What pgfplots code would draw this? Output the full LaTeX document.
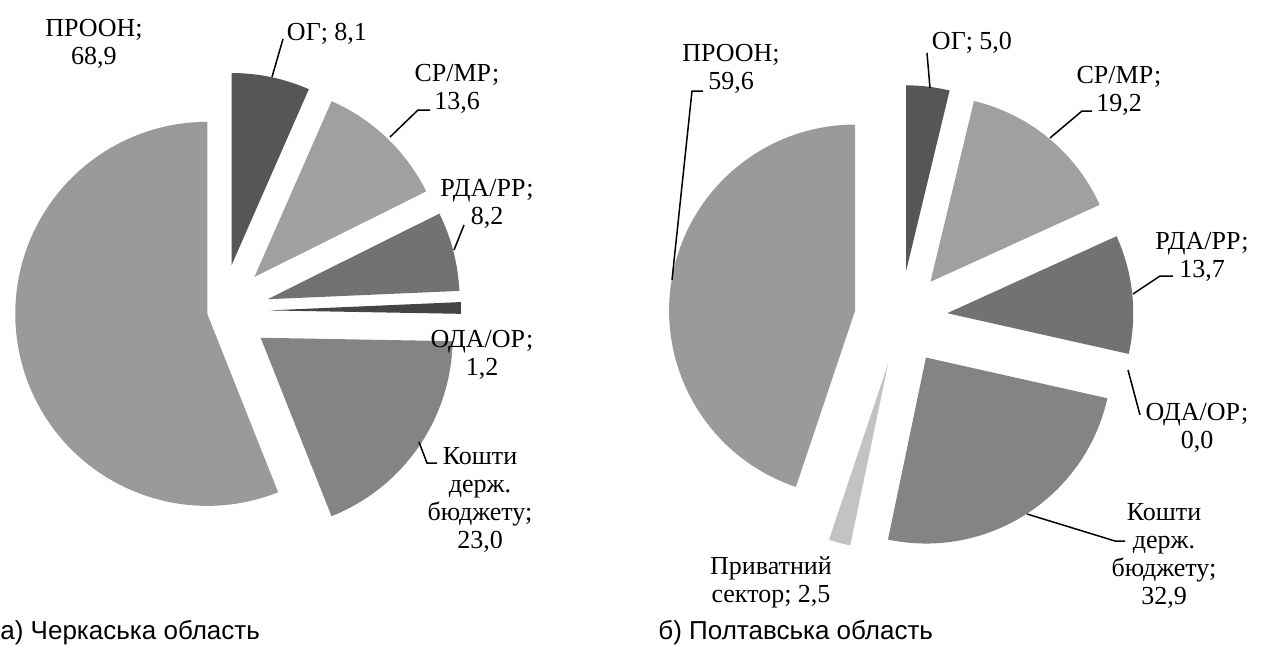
\documentclass[border=0pt]{standalone}
\usepackage{fontspec}
\setmainfont{Liberation Serif}
\newfontfamily\titlefont{Liberation Sans}
\usepackage{pgfplots}
\usepackage{pgfplotstable}
\pgfplotsset{compat=1.18}

\definecolor{cOG}{HTML}{565656}
\definecolor{cSR}{HTML}{A0A0A0}
\definecolor{cRDA}{HTML}{727272}
\definecolor{cODA}{HTML}{454545}
\definecolor{cKDB}{HTML}{848484}
\definecolor{cPROON}{HTML}{9A9A9A}
\definecolor{cPRIV}{HTML}{C3C3C3}

% value = share, explode = offset of the slice (px)
\pgfplotstableread{
label value explode color
OG    8.1   47 cOG
SR    13.6  47 cSR
RDA   8.2   47 cRDA
ODA   1.2   47 cODA
KDB   23.0  47 cKDB
PROON 68.9  15 cPROON
}\cherkasy

\pgfplotstableread{
label value explode color
OG    5.0   47 cOG
SR    19.2  47 cSR
RDA   13.7  47 cRDA
ODA   0.0   47 cODA
KDB   32.9  47 cKDB
PRIV  2.5   47 cPRIV
PROON 59.6  46 cPROON
}\poltava

% #1 table, #2 centre x, #3 centre y, #4 radius (px; 1 px = 0.5pt)
\newcommand\drawpie[4]{%
  \pgfplotstablegetrowsof{#1}%
  \pgfmathtruncatemacro\pienrows{\pgfplotsretval-1}%
  \gdef\pietotal{0}%
  \foreach \i in {0,...,\pienrows}{%
    \pgfplotstablegetelem{\i}{value}\of{#1}%
    \pgfmathsetmacro\pietmp{\pietotal+\pgfplotsretval}%
    \xdef\pietotal{\pietmp}}%
  \gdef\pieangle{90}%
  \pgfmathsetmacro\pieR{#4*0.5}%
  \foreach \i in {0,...,\pienrows}{%
    \pgfplotstablegetelem{\i}{value}\of{#1}\let\pval\pgfplotsretval
    \pgfplotstablegetelem{\i}{explode}\of{#1}\let\pexp\pgfplotsretval
    \pgfplotstablegetelem{\i}{color}\of{#1}\let\pcol\pgfplotsretval
    \pgfmathsetmacro\sA{\pieangle}%
    \pgfmathsetmacro\sB{\pieangle-(360/\pietotal)*\pval}%
    \pgfmathsetmacro\sM{(\sA+\sB)/2}%
    \pgfmathsetmacro\apx{#2+\pexp*cos(\sM)}%
    \pgfmathsetmacro\apy{#3-\pexp*sin(\sM)}%
    \ifdim\pval pt>0pt
      \fill[\pcol] (axis cs:\apx,\apy) -- ++(\sA:\pieR pt)
        arc[start angle=\sA, end angle=\sB, radius=\pieR pt] -- cycle;
    \fi
    \xdef\pieangle{\sB}%
  }%
}

\begin{document}
\begin{tikzpicture}
\begin{axis}[
  width=632.5pt, height=324pt, scale only axis,
  xmin=0, xmax=1265, ymin=0, ymax=648, y dir=reverse,
  hide axis, clip=false,
]
\pgfplotsextra{\drawpie{\cherkasy}{222}{311}{192}}
\pgfplotsextra{\drawpie{\poltava}{900.5}{318}{186}}

\tikzset{lbl/.style={font=\fontsize{13}{14}\selectfont, align=center, inner sep=0pt},
         ldr/.style={draw=black, line width=0.75pt}}

% Cherkasy labels
\node[lbl] at (axis cs:94,44) {ПРООН;\\68,9};
\node[lbl] at (axis cs:327,34) {ОГ; 8,1};
\node[lbl] at (axis cs:457,89) {СР/МР;\\13,6};
\node[lbl] at (axis cs:487,204) {РДА/РР;\\8,2};
\node[lbl] at (axis cs:482,355) {ОДА/ОР;\\1,2};
\node[lbl] at (axis cs:480,500) {Кошти\\держ.\\бюджету;\\23,0};
\draw[ldr] (axis cs:283,39) -- (axis cs:272,77);
\draw[ldr] (axis cs:390,137) -- (axis cs:418,110) -- (axis cs:430,110);
\draw[ldr] (axis cs:454,250) -- (axis cs:464,225);
\draw[ldr] (axis cs:419,442) -- (axis cs:427,463) -- (axis cs:437,463);

% Poltava labels
\node[lbl] at (axis cs:731,69) {ПРООН;\\59,6};
\node[lbl] at (axis cs:972,43) {ОГ; 5,0};
\node[lbl] at (axis cs:1119,91) {СР/МР;\\19,2};
\node[lbl] at (axis cs:1202,257) {РДА/РР;\\13,7};
\node[lbl] at (axis cs:1197,428) {ОДА/ОР;\\0,0};
\node[lbl] at (axis cs:1164,556) {Кошти\\держ.\\бюджету;\\32,9};
\node[lbl] at (axis cs:771,582) {Приватний\\сектор; 2,5};
\draw[ldr] (axis cs:672,280) -- (axis cs:692,91) -- (axis cs:703,91);
\draw[ldr] (axis cs:927,53) -- (axis cs:930,88);
\draw[ldr] (axis cs:1050,138) -- (axis cs:1082,111) -- (axis cs:1092,111);
\draw[ldr] (axis cs:1133,294) -- (axis cs:1160,276) -- (axis cs:1173,276);
\draw[ldr] (axis cs:1128,370) -- (axis cs:1140,415);
\draw[ldr] (axis cs:1027,514) -- (axis cs:1115,541) -- (axis cs:1125,541);

% captions
\node[anchor=west, inner sep=0pt, font=\titlefont\fontsize{13}{14}\selectfont] at (axis cs:0,633) {а) Черкаська область};
\node[anchor=west, inner sep=0pt, font=\titlefont\fontsize{13}{14}\selectfont] at (axis cs:658,633) {б) Полтавська область};
\end{axis}
\pgfresetboundingbox
\path[use as bounding box] (current axis.south west) rectangle (current axis.north east);
\end{tikzpicture}
\end{document}
